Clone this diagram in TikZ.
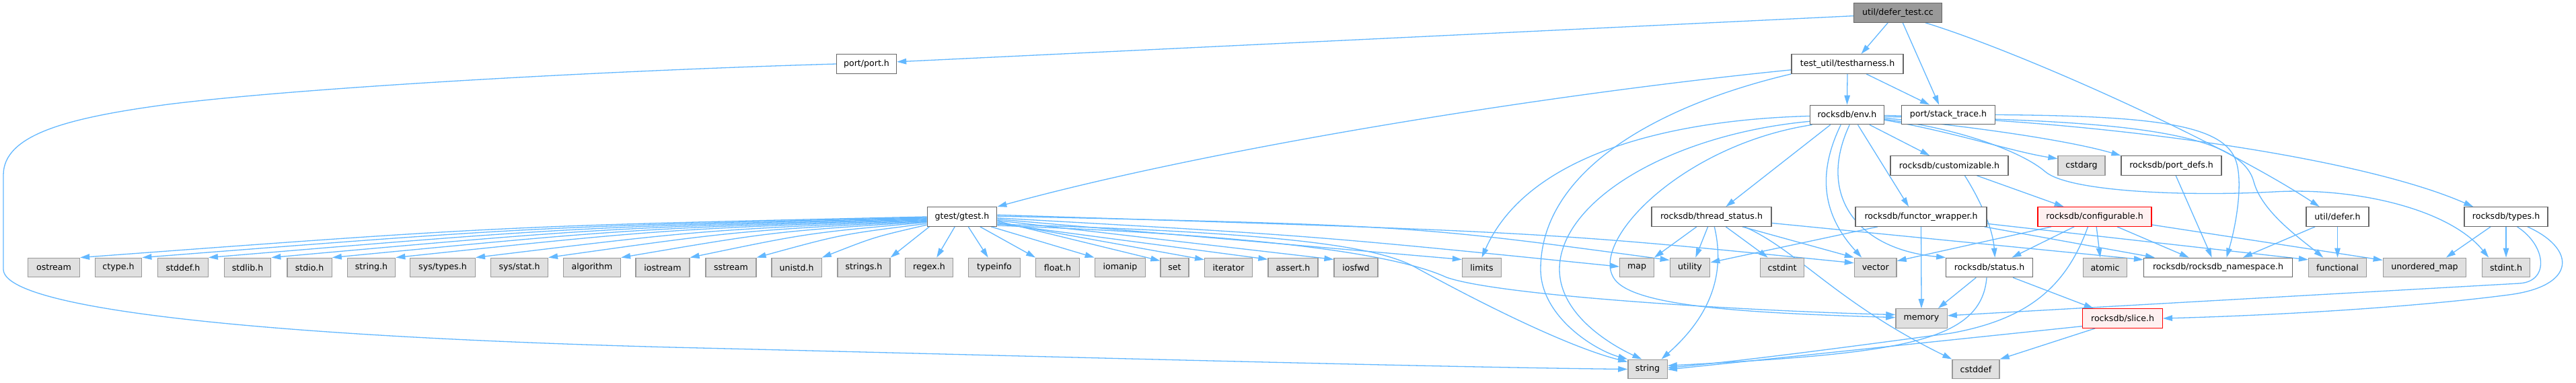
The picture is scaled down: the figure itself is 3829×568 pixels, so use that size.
\documentclass[tikz,border=0pt]{standalone}
\usepackage{fontspec}
\setmainfont{DejaVu Sans}
\usetikzlibrary{arrows.meta}
\pgfdeclarelayer{back}
\pgfdeclarelayer{edges}
\pgfsetlayers{back,edges,main}
\definecolor{edgec}{HTML}{63B8FF}
\definecolor{bordA}{HTML}{666666}
\definecolor{bordB}{HTML}{999999}
\definecolor{sysfill}{HTML}{E0E0E0}
\definecolor{mainfill}{HTML}{999999}
\definecolor{truncfill}{HTML}{FFF0F0}
\definecolor{truncbord}{HTML}{FF0000}
\begin{document}
\begin{tikzpicture}[x=1pt,y=-1pt,
  box/.style={rectangle, inner sep=0pt, minimum height=28.5pt, line width=1.3pt, font=\fontsize{12.6}{15}\selectfont, text=black},
  hdr/.style={box, draw=bordA, fill=white},
  sys/.style={box, draw=bordB, fill=sysfill},
  trunc/.style={box, draw=truncbord, fill=truncfill},
  mainnode/.style={box, draw=bordA, fill=mainfill},
  dep/.style={draw=edgec, line width=1.3pt, -{Triangle[length=14pt,width=8.5pt]}}]
\useasboundingbox (0,0) rectangle (3829,568);
\begin{pgfonlayer}{back}
\fill[white] (0,0) rectangle (3829,568);
\end{pgfonlayer}
% nodes
\node[mainnode, minimum width=131pt] (dtc) at (2821,19) {util/defer\_test.cc};
\node[hdr, minimum width=89pt] (port) at (1288,95) {port/port.h};
\node[hdr, minimum width=166pt] (testh) at (2746,95) {test\_util/testharness.h};
\node[hdr, minimum width=110pt] (env) at (2745.5,170.5) {rocksdb/env.h};
\node[hdr, minimum width=139pt] (stack) at (2896,170.5) {port/stack\_trace.h};
\node[hdr, minimum width=175pt] (custom) at (2897.5,246) {rocksdb/customizable.h};
\node[sys, minimum width=70pt] (cstdarg) at (3094,246) {cstdarg};
\node[hdr, minimum width=149pt] (portdefs) at (3227.5,246) {rocksdb/port\_defs.h};
\node[hdr, minimum width=103.5pt] (gtest) at (1430,322) {gtest/gtest.h};
\node[hdr, minimum width=178pt] (thread) at (2544,322) {rocksdb/thread\_status.h};
\node[hdr, minimum width=195pt] (functor) at (2855.5,322) {rocksdb/functor\_wrapper.h};
\node[trunc, minimum width=169pt] (config) at (3113.5,322) {rocksdb/configurable.h};
\node[hdr, minimum width=93pt] (udefer) at (3474.5,322) {util/defer.h};
\node[hdr, minimum width=124pt] (types) at (3725,322) {rocksdb/types.h};
\node[sys, minimum width=77pt] (ostream) at (80,397.5) {ostream};
\node[sys, minimum width=69.5pt] (ctype) at (176,397.5) {ctype.h};
\node[sys, minimum width=74.6pt] (stddef) at (272,397.5) {stddef.h};
\node[sys, minimum width=69.5pt] (stdlib) at (368,397.5) {stdlib.h};
\node[sys, minimum width=66.3pt] (stdio) at (460,397.5) {stdio.h};
\node[sys, minimum width=71.4pt] (stringh) at (552,397.5) {string.h};
\node[sys, minimum width=96.7pt] (systypes) at (658,397.5) {sys/types.h};
\node[sys, minimum width=84.8pt] (sysstat) at (772,397.5) {sys/stat.h};
\node[sys, minimum width=85pt] (algorithm) at (880,397.5) {algorithm};
\node[sys, minimum width=80pt] (iostream) at (985,397.5) {iostream};
\node[sys, minimum width=75pt] (sstream) at (1086.5,397.5) {sstream};
\node[sys, minimum width=74.3pt] (unistd) at (1184,397.5) {unistd.h};
\node[sys, minimum width=78pt] (strings) at (1284,397.5) {strings.h};
\node[sys, minimum width=71pt] (regex) at (1381,397.5) {regex.h};
\node[sys, minimum width=76.6pt] (typeinfo) at (1478,397.5) {typeinfo};
\node[sys, minimum width=64.4pt] (floath) at (1572,397.5) {float.h};
\node[sys, minimum width=75.4pt] (iomanip) at (1665,397.5) {iomanip};
\node[sys, minimum width=42pt] (seth) at (1746,397.5) {set};
\node[sys, minimum width=70.7pt] (iterator) at (1826,397.5) {iterator};
\node[sys, minimum width=74pt] (assert) at (1922,397.5) {assert.h};
\node[sys, minimum width=65pt] (iosfwd) at (2015.5,397.5) {iosfwd};
\node[sys, minimum width=58pt] (limits) at (2202.5,397.5) {limits};
\node[sys, minimum width=50.6pt] (map) at (2433,397.5) {map};
\node[sys, minimum width=59.5pt] (utility) at (2512,397.5) {utility};
\node[sys, minimum width=65pt] (cstdint) at (2649,397.5) {cstdint};
\node[sys, minimum width=62.6pt] (vector) at (2787.7,397.5) {vector};
\node[hdr, minimum width=128.5pt] (status) at (2957,397.5) {rocksdb/status.h};
\node[sys, minimum width=65.3pt] (atomic) at (3129,397.5) {atomic};
\node[hdr, minimum width=221pt] (ns) at (3297,397.5) {rocksdb/rocksdb\_namespace.h};
\node[sys, minimum width=86pt] (functional) at (3474.5,397.5) {functional};
\node[sys, minimum width=123.5pt] (umap) at (3604,397.5) {unordered\_map};
\node[sys, minimum width=70.5pt] (stdint) at (3725,397.5) {stdint.h};
\node[sys, minimum width=76.3pt] (memory) at (2856,473) {memory};
\node[trunc, minimum width=118.5pt] (slice) at (3155,473) {rocksdb/slice.h};
\node[sys, minimum width=58.3pt] (string) at (2449,548.5) {string};
\node[sys, minimum width=70pt] (cstddef) at (2937,548.5) {cstddef};
% edges
\begin{pgfonlayer}{edges}
% defer_test
\draw[dep] (dtc.184) -- (port.4);
\draw[dep] (dtc.225) -- (testh.36);
\draw[dep] (dtc.296) -- (stack.133);
\draw[dep] (dtc.340) .. controls (3000,76) and (3300,210) .. (udefer.151);
% port
\draw[dep] (port.west) .. controls (900,105) and (450,130) .. (250,155) .. controls (100,175) and (5,200) .. (5,260) -- (5,400) .. controls (5,460) and (400,500) .. (1000,516) .. controls (1500,528) and (2100,545) .. (string.west);
% testharness
\draw[dep] (testh.186) .. controls (2300,140) and (1800,220) .. (gtest.north east);
\draw[dep] (testh.south) -- (env.north);
\draw[dep] (testh.332) -- (stack.152);
\draw[dep] (testh.south west) .. controls (2450,160) and (2290,260) .. (2290,400) .. controls (2290,470) and (2370,520) .. (string.north west);
% env
\draw[dep] (env.182) .. controls (2480,178) and (2270,230) .. (limits.north);
\draw[dep] (env.190) .. controls (2480,200) and (2318,300) .. (2318,400) .. controls (2318,470) and (2400,515) .. (string.120);
\draw[dep] (env.196) .. controls (2500,215) and (2360,360) .. (2400,415) .. controls (2430,456) and (2600,465) .. (memory.178);
\draw[dep] (env.211) -- (thread.35);
\draw[dep] (env.238) .. controls (2700,260) and (2710,320) .. (vector.144);
\draw[dep] (env.284) .. controls (2700,290) and (2760,370) .. (status.north west);
\draw[dep] (env.317) -- (functor.141);
\draw[dep] (env.336) -- (custom.153);
\draw[dep] (env.352) .. controls (2900,195) and (2990,225) .. (cstdarg.164);
\draw[dep] (env.355) .. controls (2950,190) and (3080,210) .. (portdefs.north west);
\draw[dep] (env.357) .. controls (3150,178) and (3330,195) .. (3350,270) .. controls (3362,315) and (3420,355) .. (functional.145);
\draw[dep] (env.353) .. controls (2910,190) and (3005,225) .. (3040,255) .. controls (3075,285) and (3250,292) .. (3380,285) .. controls (3500,278) and (3640,310) .. (stdint.150);
\draw[dep] (env.359) .. controls (3100,178) and (3500,230) .. (types.163);
% stack_trace
\draw[dep] (stack.east) .. controls (3200,172) and (3300,185) .. (3322,235) .. controls (3335,265) and (3325,330) .. (ns.50);
% customizable
\draw[dep] (custom.340) -- (config.162);
\draw[dep] (custom.327) .. controls (2945,300) and (2962,340) .. (status.61);
% port_defs
\draw[dep] (portdefs.294) -- (ns.122);
% gtest left
\draw[dep] (gtest.180) .. controls (748,336) .. (ostream.north east);
\draw[dep] (gtest.181) .. controls (795,337) .. (ctype.north east);
\draw[dep] (gtest.182) .. controls (844,338) .. (stddef.north east);
\draw[dep] (gtest.183) .. controls (890,339) .. (stdlib.north east);
\draw[dep] (gtest.184) .. controls (936,340) .. (stdio.north east);
\draw[dep] (gtest.185) .. controls (983,341) .. (stringh.north east);
\draw[dep] (gtest.186) .. controls (1042,342) .. (systypes.north east);
\draw[dep] (gtest.187) .. controls (1096,343) .. (sysstat.north east);
\draw[dep] (gtest.188) .. controls (1150,344) .. (algorithm.north east);
\draw[dep] (gtest.189) .. controls (1202,346) .. (iostream.north east);
\draw[dep] (gtest.191) .. controls (1251,348) .. (sstream.north east);
\draw[dep] (gtest.193) .. controls (1300,352) .. (unistd.north east);
\draw[dep] (gtest.197) -- (strings.north east);
\draw[dep] (gtest.234) -- (regex.53);
\draw[dep] (gtest.302) -- (typeinfo.122);
\draw[dep] (gtest.331) -- (floath.north west);
\draw[dep] (gtest.341) -- (iomanip.north west);
% gtest right
\draw[dep] (gtest.353) -- (seth.155);
\draw[dep] (gtest.351) -- (iterator.162);
\draw[dep] (gtest.349) -- (assert.162);
\draw[dep] (gtest.354) -- (iosfwd.160);
\draw[dep] (gtest.356) -- (limits.158);
\draw[dep] (gtest.358) .. controls (1950,350) .. (map.177);
\draw[dep] (gtest.1) .. controls (2100,335) .. (utility.160);
\draw[dep] (gtest.3) .. controls (2300,345) .. (vector.168);
\draw[dep] (gtest.346) .. controls (1900,350) and (2080,380) .. (2150,412) .. controls (2230,440) and (2600,462) .. (memory.172);
\draw[dep] (gtest.348) .. controls (1900,345) and (2040,365) .. (2100,395) .. controls (2200,450) and (2330,515) .. (string.160);
% thread_status
\draw[dep] (thread.214) -- (map.north east);
\draw[dep] (thread.250) -- (utility.61);
\draw[dep] (thread.286) .. controls (2568,420) and (2530,480) .. (string.36);
\draw[dep] (thread.325) -- (cstdint.145);
\draw[dep] (thread.342) -- (vector.north west);
\draw[dep] (thread.343) .. controls (2670,370) and (2730,450) .. (cstddef.north west);
\draw[dep] (thread.354) -- (ns.174);
% functor_wrapper
\draw[dep] (functor.193) -- (utility.14);
\draw[dep] (functor.south) -- (memory.north);
\draw[dep] (functor.351) -- (ns.171);
\draw[dep] (functor.354) -- (functional.165);
% configurable
\draw[dep] (config.193) -- (vector.17);
\draw[dep] (config.206) -- (status.24);
\draw[dep] (config.236) .. controls (3070,430) and (3010,475) .. (2900,495) .. controls (2750,515) and (2600,535) .. (string.4);
\draw[dep] (config.280) -- (atomic.116);
\draw[dep] (config.336) -- (ns.161);
\draw[dep] (config.352) -- (umap.170);
% util/defer
\draw[dep] (udefer.south) -- (functional.north);
\draw[dep] (udefer.204) -- (ns.22);
% types
\draw[dep] (types.213) -- (umap.25);
\draw[dep] (types.south) -- (stdint.north);
\draw[dep] (types.318) .. controls (3785,365) and (3790,418) .. (3745,421) -- (memory.6);
\draw[dep] (types.335) .. controls (3830,370) and (3830,425) .. (3729,438) .. controls (3600,455) and (3400,468) .. (slice.east);
% status
\draw[dep] (status.217) -- (memory.31);
\draw[dep] (status.255) .. controls (2945,510) and (2820,525) .. (string.10);
\draw[dep] (status.337) -- (slice.161);
% slice
\draw[dep] (slice.191) -- (string.359);
\draw[dep] (slice.200) -- (cstddef.north east);
\end{pgfonlayer}
\end{tikzpicture}
\end{document}
